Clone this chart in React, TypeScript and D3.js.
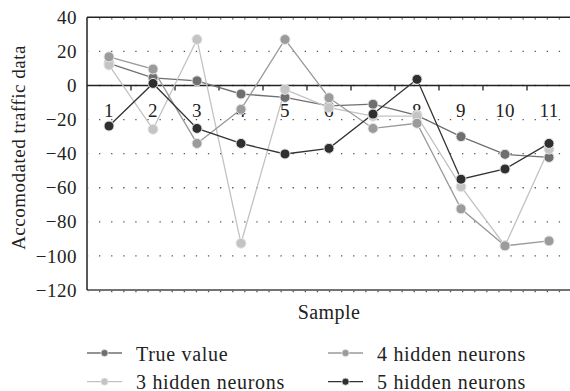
import React from "react";
import * as d3 from "d3";

const categories = ["1", "2", "3", "4", "5", "6", "7", "8", "9", "10", "11"];
const trueValue = [13, 4.5, 2.7, -5, -7, -12, -11, -17.5, -30, -40.4, -42.2];
const hidden3 = [12, -25.7, 27, -92.6, -2.3, -13, -18, -18, -59.4, -94, -37.3];
const hidden4 = [16.8, 9.6, -34, -14, 27, -7.2, -25.2, -22.2, -72.4, -94.1, -91.2];
const hidden5 = [-23.8, 1.2, -25.2, -34, -40.2, -36.9, -16.8, 3.6, -55, -49, -34];
const yTicks = [40, 20, 0, -20, -40, -60, -80, -100, -120];
const seriesNames = ["True value", "3 hidden neurons", "4 hidden neurons", "5 hidden neurons"];

const W = 570, H = 391;
const left = 87, right = 571, top = 17.3, bottom = 290;
const font = "'Liberation Serif', 'Times New Roman', serif";

export default function App() {
  const x = d3.scaleBand<string>().domain(categories).range([left, right]).padding(0);
  const y = d3.scaleLinear().domain([-120, 40]).range([bottom, top]);
  const cx = (c: string) => (x(c) as number) + x.bandwidth() / 2;

  const series = [
    { name: seriesNames[0], values: trueValue, line: "#6f6f6f", fill: "#6f6f6f" },
    { name: seriesNames[1], values: hidden3, line: "#c2c2c2", fill: "#c4c4c4" },
    { name: seriesNames[2], values: hidden4, line: "#9a9a9a", fill: "#9b9b9b" },
    { name: seriesNames[3], values: hidden5, line: "#333333", fill: "#2f2f2f" },
  ];

  const lineGen = d3
    .line<number>()
    .x((_, i) => cx(categories[i]))
    .y((d) => y(d));

  const legendPos = [
    { lx: 87, ly: 353, tx: 136, ty: 360.5 },
    { lx: 87, ly: 381.7, tx: 136, ty: 388.5 },
    { lx: 328, ly: 353, tx: 377, ty: 360.5 },
    { lx: 328, ly: 381.7, tx: 377, ty: 388.5 },
  ];

  const boundaries = categories.slice(1).map((c) => x(c) as number);

  return (
    <svg width={W} height={H} style={{ position: "absolute", left: 0, top: 0 }} fontFamily={font}>
      <rect x={0} y={0} width={W} height={H} fill="#fff" />
      {/* dotted grid */}
      {yTicks.map((t) => (
        <line
          key={"g" + t}
          x1={left + 1}
          x2={right}
          y1={y(t) + (t === 40 || t === -120 ? 1.5 : 0)}
          y2={y(t) + (t === 40 || t === -120 ? 1.5 : 0)}
          stroke="#555"
          strokeWidth={1.3}
          strokeDasharray="1.3 10.8"
          strokeDashoffset={-11}
        />
      ))}
      {/* borders */}
      <line x1={left} x2={right} y1={y(40)} y2={y(40)} stroke="#222" strokeWidth={1.5} />
      <line x1={left} x2={right} y1={y(-120)} y2={y(-120)} stroke="#444" strokeWidth={1.5} />
      <line x1={left} x2={right} y1={y(0)} y2={y(0)} stroke="#222" strokeWidth={1.5} />
      <line x1={left} x2={left} y1={y(40)} y2={y(-120)} stroke="#222" strokeWidth={1.5} />
      {boundaries.map((b, i) => (
        <line key={"t" + i} x1={b} x2={b} y1={y(0)} y2={y(0) + 5} stroke="#222" strokeWidth={1.3} />
      ))}
      {/* y tick labels */}
      {yTicks.map((t) => (
        <text
          key={"yl" + t}
          x={77}
          y={y(t)}
          dy="0.35em"
          textAnchor="end"
          fontSize={19}
          letterSpacing={0.5}
          fill="#222"
        >
          {t < 0 ? "\u2212" + Math.abs(t) : String(t)}
        </text>
      ))}
      {/* category labels */}
      {categories.map((c) => (
        <text key={"xl" + c} x={cx(c)} y={117} textAnchor="middle" fontSize={19} letterSpacing={0.3} fill="#222">
          {c}
        </text>
      ))}
      {/* axis titles */}
      <text x={(left + right) / 2} y={318.5} textAnchor="middle" fontSize={20} letterSpacing={0.4} fill="#222">
        Sample
      </text>
      <text
        transform={`translate(25, 147.5) rotate(-90)`}
        textAnchor="middle"
        fontSize={19}
        letterSpacing={0.5}
        fill="#222"
      >
        Accomodated traffic data
      </text>
      {/* series lines */}
      {series.map((s) => (
        <path key={"l" + s.name} d={lineGen(s.values) || ""} fill="none" stroke={s.line} strokeWidth={1.3} />
      ))}
      {/* markers */}
      {series.map((s) =>
        s.values.map((v, i) => (
          <circle
            key={"m" + s.name + i}
            cx={cx(categories[i])}
            cy={y(v)}
            r={5}
            fill={s.fill}
            stroke="#e6e6e6"
            strokeWidth={1}
          />
        ))
      )}
      {/* legend */}
      {series.map((s, i) => {
        const p = legendPos[i];
        return (
          <g key={"lg" + s.name}>
            <line x1={p.lx} x2={p.lx + 35} y1={p.ly} y2={p.ly} stroke={s.line} strokeWidth={1.3} />
            <circle cx={p.lx + 17.5} cy={p.ly} r={3.6} fill={s.fill} stroke="#e6e6e6" strokeWidth={0.8} />
            <text x={p.tx} y={p.ty} fontSize={20} letterSpacing={0.7} fill="#222">
              {s.name}
            </text>
          </g>
        );
      })}
    </svg>
  );
}
